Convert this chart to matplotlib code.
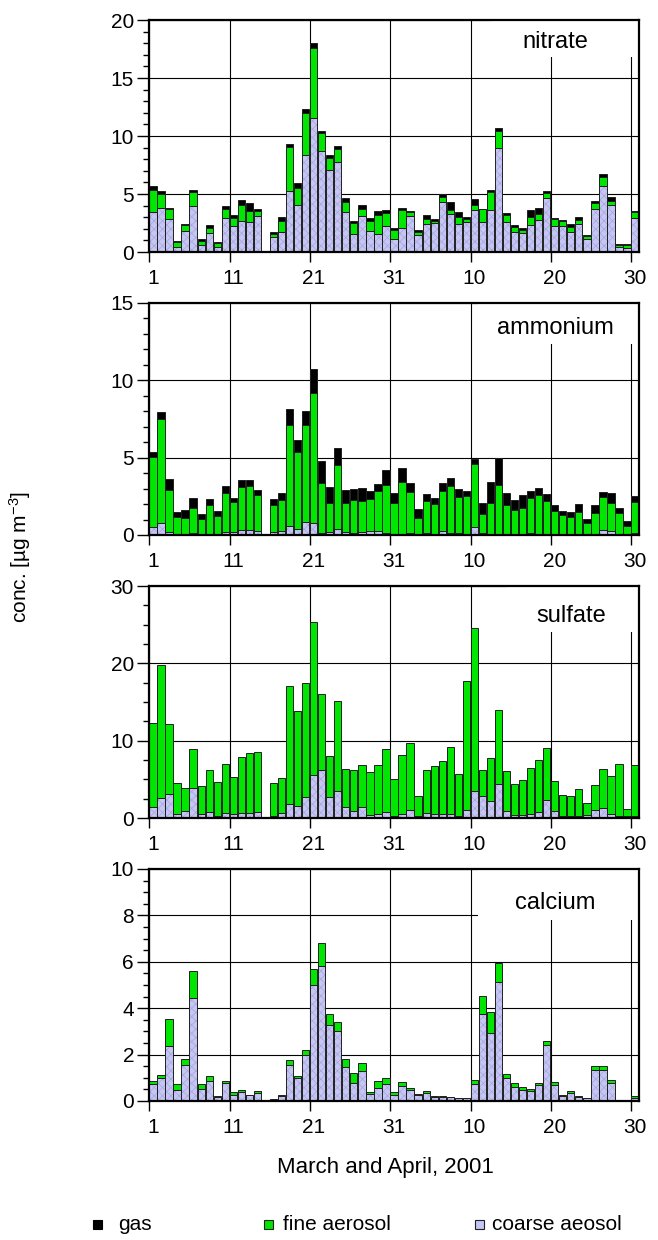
import matplotlib
matplotlib.use('Agg')
import matplotlib.pyplot as plt
import matplotlib.transforms as mtransforms
from matplotlib.patches import Rectangle
from matplotlib.ticker import MultipleLocator
import numpy as np

plt.rcParams['font.family'] = ['Liberation Sans', 'DejaVu Sans']
plt.rcParams['mathtext.fontset'] = 'custom'
plt.rcParams['mathtext.rm'] = 'Liberation Sans'
plt.rcParams['mathtext.it'] = 'Liberation Sans:italic'
plt.rcParams['hatch.linewidth'] = 0.5

nan = np.nan

# days 1..31 = March, 32..61 = April 1..30 (day 15 has no sample)
days = np.arange(1, 62)
tick_days = [1, 11, 21, 31, 41, 51, 61]
tick_labels = ['1', '11', '21', '31', '10', '20', '30']

nitrate_coarse = [3.41, 3.76, 2.84, 0.43, 1.78, 3.96, 0.60, 1.64, 0.43, 2.96, 2.24, 2.64, 2.58, 3.10, nan,
                  1.26, 1.75, 5.25, 4.05, 8.35, 11.56, 8.69, 7.09, 7.75, 3.41, 1.55, 3.07, 1.81, 1.52, 2.21, 1.12,
                  2.07, 3.07, 1.46, 2.38, 2.47, 4.30, 3.27, 2.38, 2.61, 3.59, 2.55, 3.62, 8.95, 2.55, 1.72,
                  1.61, 2.32, 2.75, 4.65, 2.21, 2.21, 1.72, 2.41, 1.09, 3.67, 5.68, 4.07, 0.43, 0.34, 2.96]
nitrate_fine = [1.93, 1.20, 0.83, 0.40, 0.52, 1.21, 0.38, 0.45, 0.32, 0.77, 0.66, 1.43, 0.98, 0.43, nan,
                0.26, 0.89, 3.79, 1.46, 3.65, 6.00, 1.61, 1.00, 1.17, 0.89, 0.95, 0.66, 0.83, 1.67, 1.18, 0.80,
                1.52, 0.34, 0.26, 0.49, 0.17, 0.41, 0.37, 0.66, 0.20, 0.46, 1.12, 1.52, 1.52, 0.64, 0.40,
                0.31, 0.66, 0.55, 0.43, 0.66, 0.43, 0.43, 0.37, 0.26, 0.55, 0.78, 0.35, 0.14, 0.23, 0.51]
nitrate_gas = [0.34, 0.32, 0.15, 0.09, 0.11, 0.17, 0.14, 0.23, 0.14, 0.26, 0.29, 0.41, 0.66, 0.17, nan,
               0.20, 0.37, 0.31, 0.40, 0.37, 0.43, 0.14, 0.23, 0.23, 0.35, 0.20, 0.32, 0.32, 0.34, 0.20, 0.12,
               0.20, 0.15, 0.20, 0.29, 0.23, 0.28, 0.69, 0.40, 0.17, 0.51, 0.06, 0.17, 0.26, 0.17, 0.20,
               0.17, 0.61, 0.52, 0.17, 0.09, 0.14, 0.26, 0.20, 0.14, 0.20, 0.28, 0.29, 0.12, 0.12, 0.09]

ammonium_coarse = [0.54, 0.75, 0.17, 0.09, 0.09, 0.13, 0.06, 0.09, 0.09, 0.19, 0.17, 0.30, 0.32, 0.28, nan,
                   0.17, 0.24, 0.56, 0.39, 0.84, 0.75, 0.13, 0.19, 0.39, 0.17, 0.13, 0.19, 0.24, 0.24, 0.13, 0.09,
                   0.09, 0.15, 0.06, 0.13, 0.09, 0.28, 0.15, 0.15, 0.09, 0.54, 0.15, 0.09, 0.09, 0.06, 0.06,
                   0.06, 0.13, 0.09, 0.09, 0.09, 0.09, 0.06, 0.09, 0.06, 0.09, 0.32, 0.24, 0.09, 0.09, 0.15]
ammonium_fine = [4.48, 6.77, 2.72, 1.10, 1.03, 1.64, 1.00, 1.87, 1.16, 2.50, 1.99, 2.83, 2.87, 2.28, nan,
                 1.79, 2.00, 6.57, 5.00, 6.29, 8.41, 3.21, 1.90, 4.16, 1.88, 2.13, 2.01, 2.11, 2.63, 3.10, 2.01,
                 3.34, 2.65, 1.02, 2.05, 1.89, 2.56, 3.04, 2.29, 2.41, 4.03, 1.19, 1.98, 3.14, 1.86, 1.58,
                 1.66, 2.24, 2.50, 2.13, 1.44, 1.20, 1.08, 1.42, 0.69, 1.33, 2.14, 1.83, 1.33, 0.47, 1.98]
ammonium_gas = [0.35, 0.41, 0.75, 0.32, 0.50, 0.64, 0.28, 0.35, 0.32, 0.50, 0.25, 0.40, 0.34, 0.35, nan,
                0.37, 0.45, 0.99, 0.77, 0.87, 1.59, 1.42, 1.01, 1.08, 0.84, 0.71, 0.84, 0.49, 0.43, 0.97, 0.59,
                0.92, 0.54, 0.58, 0.45, 0.43, 0.54, 0.50, 0.56, 0.37, 0.32, 0.73, 1.34, 1.73, 0.82, 0.64,
                0.85, 0.47, 0.45, 0.43, 0.41, 0.28, 0.37, 0.49, 0.26, 0.52, 0.32, 0.67, 0.33, 0.37, 0.39]

sulfate_coarse = [1.38, 2.54, 3.06, 0.56, 0.95, 3.92, 0.47, 0.82, 0.30, 0.69, 0.47, 0.60, 0.69, 0.82, nan,
                  0.30, 0.69, 1.85, 1.55, 2.75, 5.60, 6.16, 2.67, 3.53, 1.38, 0.86, 1.46, 0.43, 0.47, 0.82, 0.26,
                  0.56, 1.08, 0.26, 0.69, 0.56, 0.56, 0.56, 0.26, 1.08, 3.53, 2.88, 2.15, 4.35, 0.95, 0.43,
                  0.43, 0.56, 0.77, 2.37, 0.86, 0.26, 0.26, 0.22, 0.34, 0.99, 1.25, 0.56, 0.26, 0.22, 0.30]
sulfate_fine = [10.93, 17.26, 9.12, 3.92, 2.97, 5.03, 3.71, 5.38, 4.31, 6.24, 4.87, 7.32, 7.70, 7.66, nan,
                4.26, 4.43, 15.20, 12.35, 14.68, 19.80, 9.90, 5.38, 11.54, 4.99, 5.38, 5.43, 5.47, 6.33, 8.13, 4.78,
                7.62, 8.65, 2.58, 5.55, 6.20, 6.76, 8.65, 5.47, 16.66, 21.05, 3.36, 5.64, 9.64, 5.12, 4.00,
                4.48, 5.85, 6.76, 6.71, 3.88, 2.75, 2.62, 3.48, 1.64, 3.31, 5.08, 4.91, 6.76, 0.94, 6.54]
sulfate_gas = [0.0] * 61

calcium_coarse = [0.75, 1.00, 2.38, 0.49, 1.54, 4.45, 0.52, 0.86, 0.19, 0.76, 0.24, 0.39, 0.24, 0.36, nan,
                  0.06, 0.23, 1.54, 1.00, 2.00, 4.98, 5.80, 3.26, 3.01, 1.45, 0.77, 1.29, 0.29, 0.57, 0.75, 0.27,
                  0.65, 0.49, 0.26, 0.34, 0.19, 0.19, 0.16, 0.13, 0.13, 0.75, 3.73, 2.94, 5.13, 0.97, 0.62,
                  0.47, 0.42, 0.68, 2.40, 0.70, 0.20, 0.33, 0.19, 0.11, 1.34, 1.34, 0.76, 0.03, 0.02, 0.14]
calcium_fine = [0.13, 0.12, 1.16, 0.26, 0.28, 1.15, 0.20, 0.22, 0.04, 0.12, 0.15, 0.07, 0.03, 0.06, nan,
                0.04, 0.04, 0.21, 0.09, 0.18, 0.72, 1.01, 0.50, 0.38, 0.36, 0.45, 0.35, 0.10, 0.29, 0.25, 0.12,
                0.15, 0.08, 0.03, 0.08, 0.01, 0.01, 0.02, 0.01, 0.01, 0.15, 0.80, 0.89, 0.80, 0.21, 0.17,
                0.13, 0.11, 0.11, 0.20, 0.10, 0.05, 0.12, 0.04, 0.03, 0.17, 0.17, 0.14, 0.03, 0.02, 0.06]
calcium_gas = [0.0] * 61

panels = [
    # name, coarse, fine, gas, ymax, major, minor, top px, label (x, y), white box (x0, y0)
    ('nitrate', nitrate_coarse, nitrate_fine, nitrate_gas, 20, 5, 1, 20, (0.828, 0.905), (0.70, 0.84)),
    ('ammonium', ammonium_coarse, ammonium_fine, ammonium_gas, 15, 5, 1, 303, (0.828, 0.892), (0.67, 0.823)),
    ('sulfate', sulfate_coarse, sulfate_fine, sulfate_gas, 30, 10, 2.5, 586, (0.861, 0.871), (0.73, 0.80)),
    ('calcium', calcium_coarse, calcium_fine, calcium_gas, 10, 2, 0.5, 869, (0.828, 0.853), (0.67, 0.78)),
]

W, H = 658, 1240
c_coarse = '#c6c6f4'
c_hatch = '#a6a6dc'
c_fine = '#00e600'
c_edge = '#202020'
bw = 0.91

fig = plt.figure(figsize=(W / 100, H / 100), dpi=100)

for name, coarse, fine, gas, ymax, major, minor, top, lab, box in panels:
    coarse = np.array(coarse)
    fine = np.array(fine)
    gas = np.array(gas)
    ax = fig.add_axes([149.3 / W, 1 - (top + 232) / H, 490 / W, 232 / H])

    ax.bar(days, coarse, width=bw, align='edge', color=c_coarse, edgecolor=c_hatch,
           hatch='xxxx', linewidth=0, zorder=2)
    ax.bar(days, coarse, width=bw, align='edge', fill=False, edgecolor=c_edge, linewidth=0.7, zorder=2.1)
    ax.bar(days, fine, bottom=coarse, width=bw, align='edge', color=c_fine,
           edgecolor=c_edge, linewidth=0.7, zorder=2)
    if np.nansum(gas) > 0:
        ax.bar(days, gas, bottom=coarse + fine, width=bw, align='edge', color='black',
               edgecolor=c_edge, linewidth=0.7, zorder=2)

    ax.set_xlim(1, 61.98)
    ax.set_ylim(0, ymax)
    ax.set_xticks(tick_days)
    ax.set_xticklabels(tick_labels)
    ax.yaxis.set_major_locator(MultipleLocator(major))
    ax.yaxis.set_minor_locator(MultipleLocator(minor))
    ax.tick_params(axis='x', which='major', direction='out', length=7, width=1, pad=5, labelsize=15)
    ax.tick_params(axis='y', which='major', direction='out', length=8.5, width=1, pad=2.5, labelsize=15)
    ax.tick_params(axis='y', which='minor', direction='out', length=4.3, width=1)
    offset = mtransforms.ScaledTranslation(3.5 / 100, 0, fig.dpi_scale_trans)
    for t in ax.get_xticklabels():
        t.set_transform(t.get_transform() + offset)

    ax.grid(True, which='major', color='black', linewidth=0.8)
    ax.set_axisbelow(True)
    for s in ax.spines.values():
        s.set_linewidth(1.6)

    ax.add_patch(Rectangle((box[0], box[1]), 1 - box[0], 1 - box[1], transform=ax.transAxes,
                           facecolor='white', edgecolor='none', zorder=1))
    ax.text(lab[0], lab[1], name, transform=ax.transAxes, ha='center', va='center',
            fontsize=17, zorder=3)

fig.text(20 / W, 1 - 557 / H, 'conc. [µg m$^{-3}$]', rotation=90, ha='center', va='center', fontsize=15)
fig.text(385 / W, 1 - 1168 / H, 'March and April, 2001', ha='center', va='center', fontsize=16)

# legend row
leg_y = 1224
sq = 9
items = [(97, 'black', 'black', 'gas', 118),
         (268, c_fine, c_edge, 'fine aerosol', 283),
         (479, c_coarse, c_edge, 'coarse aeosol', 492)]
for mx, fc, ec, txt, tx in items:
    fig.add_artist(Rectangle(((mx - sq / 2) / W, 1 - (leg_y + sq / 2) / H), sq / W, sq / H,
                             transform=fig.transFigure, facecolor=fc, edgecolor=ec, linewidth=0.8))
    fig.text(tx / W, 1 - leg_y / H, txt, ha='left', va='center', fontsize=15)

fig.savefig('out.png', dpi=100)
